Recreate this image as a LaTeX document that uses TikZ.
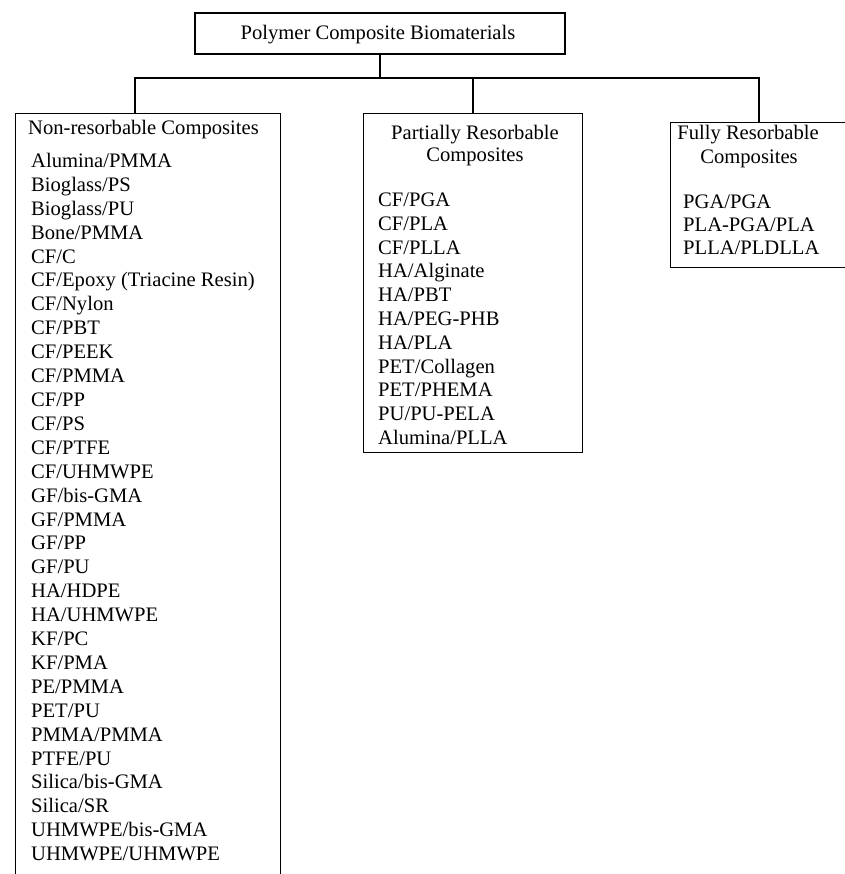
\documentclass[tikz,border=0pt]{standalone}
\usepackage{fontspec}
\setmainfont{Liberation Serif}
\begin{document}
\begin{tikzpicture}[x=1pt,y=-1pt,
  box/.style={draw,line width=1.2pt,inner sep=0pt},
  conn/.style={line width=1.2pt},
  txt/.style={inner sep=0pt,font=\fontsize{20.6}{24}\selectfont},
]
\useasboundingbox (0,0) rectangle (844,874);
% boxes
\node[box,minimum width=370pt,minimum height=41pt] (top) at (380,33.5) {};
\node[txt,anchor=base] (toptxt) at (378,39.5) {Polymer Composite Biomaterials};
\node[box,anchor=north west,minimum width=265pt,minimum height=775pt] (left) at (15,113) {};
\node[box,anchor=north west,minimum width=219pt,minimum height=339pt] (mid) at (363,113) {};
\node[box,anchor=north west,minimum width=200pt,minimum height=145pt] (right) at (670,122) {};
% connectors
\coordinate (busL) at (135,78);
\coordinate (busM) at (473,78);
\coordinate (busR) at (759,78);
\draw[conn] (top.south) -- (top.south |- busL);
\draw[conn] (busL |- left.north) -- (busL) -- (busR) -- (busR |- right.north);
\draw[conn] (busM) -- (busM |- mid.north);
% headers
\node[txt,anchor=base west] (lhead) at (28,134.5) {Non-resorbable Composites};
\node[txt,anchor=base] (mhead1) at (475,139.5) {Partially Resorbable};
\node[txt,anchor=base] (mhead2) at (475,162) {Composites};
\node[txt,anchor=base] (rhead1) at (748,139.5) {Fully Resorbable};
\node[txt,anchor=base] (rhead2) at (749,163.5) {Composites};
% lists
\foreach \t [count=\i] in {Alumina/PMMA, Bioglass/PS, Bioglass/PU, Bone/PMMA, CF/C,
  CF/Epoxy (Triacine Resin), CF/Nylon, CF/PBT, CF/PEEK, CF/PMMA, CF/PP, CF/PS, CF/PTFE,
  CF/UHMWPE, GF/bis-GMA, GF/PMMA, GF/PP, GF/PU, HA/HDPE, HA/UHMWPE, KF/PC, KF/PMA,
  PE/PMMA, PET/PU, PMMA/PMMA, PTFE/PU, Silica/bis-GMA, Silica/SR, UHMWPE/bis-GMA,
  UHMWPE/UHMWPE}
  \node[txt,anchor=base west] (l\i) at (31,{167.5+(\i-1)*23.9}) {\t};
\foreach \t [count=\i] in {CF/PGA, CF/PLA, CF/PLLA, HA/Alginate, HA/PBT, HA/PEG-PHB,
  HA/PLA, PET/Collagen, PET/PHEMA, PU/PU-PELA, Alumina/PLLA}
  \node[txt,anchor=base west] (m\i) at (378,{206.5+(\i-1)*23.8}) {\t};
\foreach \t [count=\i] in {PGA/PGA, PLA-PGA/PLA, PLLA/PLDLLA}
  \node[txt,anchor=base west] (r\i) at (683,{208.5+(\i-1)*23}) {\t};
\end{tikzpicture}
\end{document}
